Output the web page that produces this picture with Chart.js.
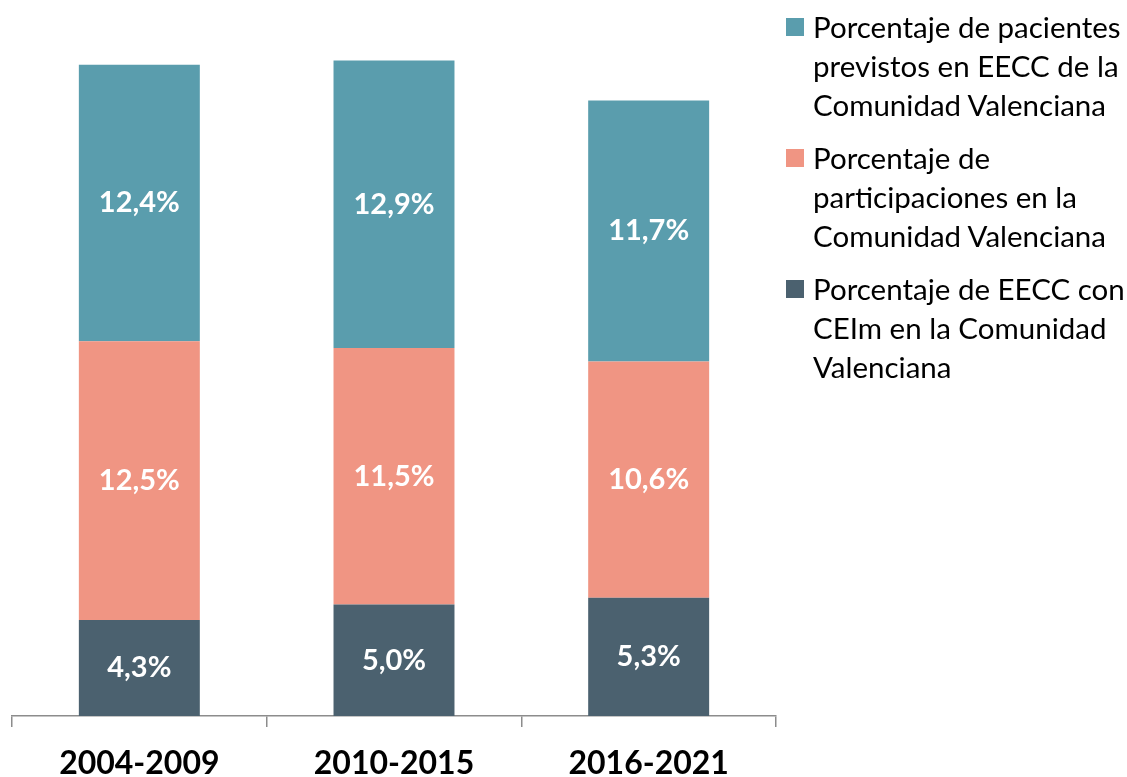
<!DOCTYPE html>
<html>
<head>
<meta charset="utf-8">
<script src="https://cdn.jsdelivr.net/npm/chart.js@4/dist/chart.umd.min.js"></script>
<style>
    body { margin: 0; background: #fff; font-family: Lato, sans-serif; }
    #wrap { position: relative; width: 1127px; height: 777px; }
    #myChart { position: absolute; left: 0; top: 0; }
    #legend { position: absolute; left: 786px; top: 7px; }
    .item { position: relative; padding-left: 27px; margin-bottom: 14px; }
    .box { position: absolute; left: 0; top: 11px; width: 18px; height: 18px; }
    .line { font-size: 29.5px; line-height: 39px; white-space: nowrap; color: #000; }
</style>
</head>
<body>
<div id="wrap">
    <canvas id="myChart" width="790" height="777"></canvas>
    <div id="legend"></div>
</div>
<script>
var periodos = ['2004-2009', '2010-2015', '2016-2021'];

var eeccCeim = [4.3, 5.0, 5.3];
var participaciones = [12.5, 11.5, 10.6];
var pacientes = [12.4, 12.9, 11.7];

var nombreCeim = ['Porcentaje de EECC con', 'CEIm en la Comunidad', 'Valenciana'];
var nombreParticipaciones = ['Porcentaje de', 'participaciones en la', 'Comunidad Valenciana'];
var nombrePacientes = ['Porcentaje de pacientes', 'previstos en EECC de la', 'Comunidad Valenciana'];

var colorCeim = '#4b616f';
var colorParticipaciones = '#f09583';
var colorPacientes = '#5a9dad';

// etiquetas dentro de cada segmento
var valueLabels = {
    id: 'valueLabels',
    afterDatasetsDraw: function (chart) {
        var ctx = chart.ctx;
        ctx.save();
        ctx.fillStyle = '#ffffff';
        ctx.font = 'bold 29px Lato';
        ctx.textAlign = 'center';
        ctx.textBaseline = 'middle';
        chart.data.datasets.forEach(function (ds, i) {
            var meta = chart.getDatasetMeta(i);
            meta.data.forEach(function (bar, j) {
                var txt = ds.data[j].toFixed(1).replace('.', ',') + '%';
                ctx.fillText(txt, bar.x, (bar.y + bar.base) / 2);
            });
        });
        ctx.restore();
    }
};

function DrawChart() {
    var ctx = document.getElementById('myChart').getContext('2d');

    var myChart = new Chart(ctx, {
        type: 'bar',
        data: {
            labels: periodos,
            datasets: [{
                label: nombreCeim.join(' '),
                data: eeccCeim,
                backgroundColor: colorCeim
            }, {
                label: nombreParticipaciones.join(' '),
                data: participaciones,
                backgroundColor: colorParticipaciones
            }, {
                label: nombrePacientes.join(' '),
                data: pacientes,
                backgroundColor: colorPacientes
            }]
        },
        options: {
            responsive: false,
            animation: false,
            layout: {
                padding: { left: 12, right: 14, top: 47, bottom: -24 }
            },
            datasets: {
                bar: { categoryPercentage: 1, barPercentage: 0.475 }
            },
            plugins: {
                legend: { display: false },
                tooltip: { enabled: false }
            },
            scales: {
                x: {
                    stacked: true,
                    grid: {
                        drawOnChartArea: false,
                        drawTicks: true,
                        tickLength: 11,
                        color: '#8c8c8c',
                        lineWidth: 1.5
                    },
                    border: { display: true, color: '#8c8c8c', width: 1.5 },
                    ticks: {
                        color: '#000',
                        padding: 21,
                        font: { family: 'Lato', size: 32, weight: 'bold', lineHeight: 1 }
                    }
                },
                y: {
                    stacked: true,
                    display: false,
                    min: 0,
                    max: 30
                }
            }
        },
        plugins: [valueLabels]
    });

    return myChart;
}

function DrawLegend() {
    var entries = [
        [nombrePacientes, colorPacientes],
        [nombreParticipaciones, colorParticipaciones],
        [nombreCeim, colorCeim]
    ];
    var html = '';
    entries.forEach(function (e) {
        html += '<div class="item"><span class="box" style="background:' + e[1] + '"></span>';
        e[0].forEach(function (l) {
            html += '<div class="line">' + l + '</div>';
        });
        html += '</div>';
    });
    document.getElementById('legend').innerHTML = html;
}

DrawLegend();
DrawChart();
</script>
</body>
</html>
